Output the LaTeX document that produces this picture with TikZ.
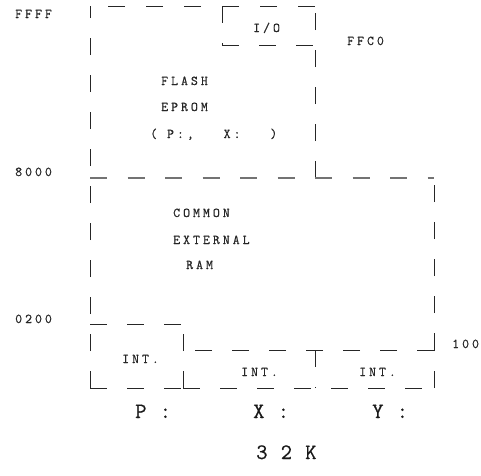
\documentclass[tikz,border=0pt]{standalone}
\usepackage{fontspec}
\newfontfamily\smallmono[LetterSpace=22,FakeBold=0.5]{Latin Modern Mono}
\newfontfamily\bigmono[LetterSpace=60,FakeBold=0.6]{Latin Modern Mono}
\begin{document}
\begin{tikzpicture}[x=1pt,y=-1pt,
  dsh/.style={line width=0.8pt, draw=black!85, dash pattern=on 17pt off 20pt},
  gdsh/.style={line width=1.6pt, draw=black!55, dash pattern=on 17pt off 20.5pt},
  sl/.style={anchor=base west, inner sep=0pt, font=\smallmono\fontsize{13.5}{15}\selectfont, text=black!85},
  bl/.style={anchor=base west, inner sep=0pt, font=\bigmono\fontsize{22}{25}\selectfont, text=black!90}]
\useasboundingbox (0,0) rectangle (481,475);
% corners
\coordinate (tl) at (90,6);
\coordinate (tr) at (315,6);
\coordinate (iol) at (222,6);
\coordinate (iobl) at (222,45);
\coordinate (iobr) at (315,45);
\coordinate (fbr) at (315,178);
\coordinate (ml) at (90,178);
\coordinate (mr) at (434,178);
\coordinate (rbr) at (434,350);
\coordinate (pl) at (90,324);
\coordinate (pr) at (183,324);
\coordinate (pbl) at (90,388);
\coordinate (pbr) at (183,388);
\coordinate (xtl) at (183,350);
\coordinate (ybr) at (434,388);
\coordinate (dvt) at (315,350);
\coordinate (dvb) at (315,388);
% flash box
\draw[dsh, dash pattern=on 17pt off 21pt] (tr) -- (tl);
\draw[dsh] (pbl) -- (tl);
\draw[dsh] (fbr) -- (tr);
% I/O box
\draw[dsh] (iol) -- (iobl);
\draw[dsh] (iobl) -- (iobr);
% 8000 line
\draw[gdsh] (ml) -- (mr);
% RAM right side
\draw[dsh] (rbr) -- (mr);
% 0200 line and P box
\draw[dsh] (pl) -- (pr);
\draw[dsh] (pbl) -- (pbr);
\draw[dsh] (pbr) -- (pr);
% X/Y box
\draw[dsh] (rbr) -- (xtl);
\draw[dsh] (pbr) -- (ybr);
\draw[dsh] (ybr) -- (rbr);
\draw[dsh] (dvt) -- (dvb);
% labels
\node[sl] (ffff) at (15,18) {FFFF};
\node[sl] (ffc0) at (347,45) {FFC0};
\node[sl] (a8000) at (15,176) {8000};
\node[sl] (a0200) at (15,323) {0200};
\node[sl] (a100) at (452,348) {100};
\node[sl] (io) at (253,32) {I/O};
\node[sl] (flash) at (161,85) {FLASH};
\node[sl] (eprom) at (161,111) {EPROM};
\node[sl] (px) at (150,138) {( P:,~~~X:~~~)};
\node[sl] (common) at (173,217) {COMMON};
\node[sl] (external) at (173,244) {EXTERNAL};
\node[sl] (ram) at (186,269) {RAM};
\node[sl] (int1) at (122,363) {INT.};
\node[sl] (int2) at (241,376) {INT.};
\node[sl] (int3) at (359,376) {INT.};
\node[bl] (lp) at (135,418) {P:};
\node[bl] (lx) at (253,418) {X:};
\node[bl] (ly) at (372,418) {Y:};
\node[bl] (k32) at (256,459) {32K};
\end{tikzpicture}
\end{document}
